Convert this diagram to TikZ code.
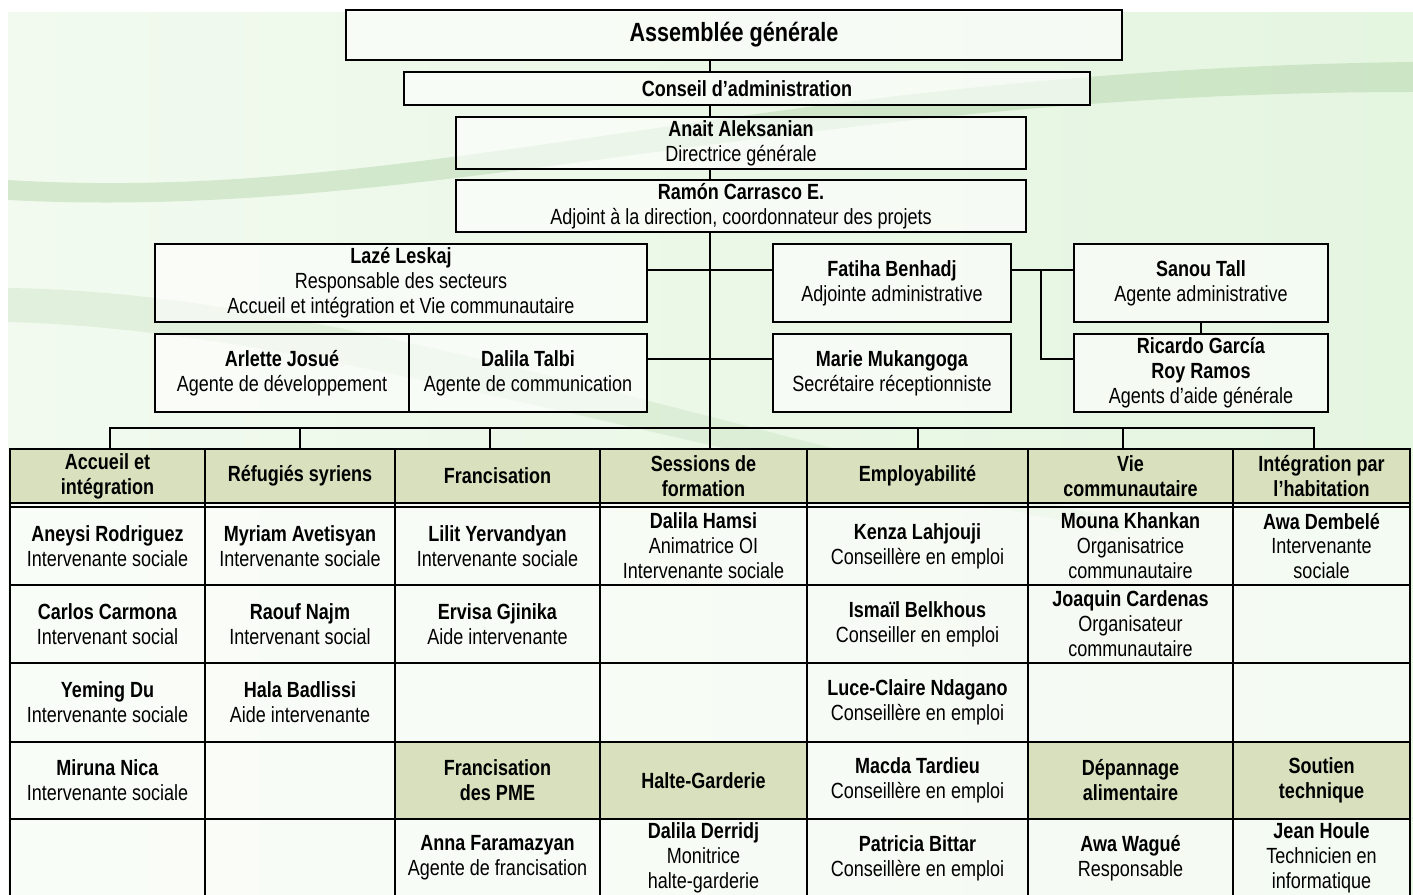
\documentclass[tikz,border=0pt]{standalone}
\usepackage{fontspec}
\setmainfont{Liberation Sans}[FakeStretch=0.82]

\definecolor{pagegreen}{HTML}{F2FAEF}
\definecolor{pagegreenR}{HTML}{E4F5E0}
\definecolor{swoosh}{HTML}{A9CF9E}
\definecolor{headfill}{HTML}{D8E0BE}

\newcommand{\pers}[2]{\textbf{#1}\\#2}
\newcommand{\bodyfont}{\fontsize{12.5}{14.2}\selectfont}

\tikzset{
  box/.style={draw, line width=1.3pt, fill=white, fill opacity=.6, text opacity=1, align=center, inner sep=0pt},
  cell/.style={box, minimum height=1.56cm},
  head/.style={box, fill=headfill, fill opacity=1, font=\bodyfont\bfseries},
  gapcell/.style={box, minimum height=0.08cm},
  wire/.style={line width=1.3pt},
}

\begin{document}
\begin{tikzpicture}[x=0.02cm,y=-0.02cm,font=\bodyfont]
\useasboundingbox (0,0) rectangle (1413,895);
\clip (0,0) rectangle (1413,895);
% background
\fill[white] (0,0) rectangle (1413,895);
\shade[left color=pagegreen, right color=pagegreenR] (8,13) rectangle (1413,895);
\fill[swoosh, opacity=.4] (8,180) .. controls (420,205) and (760,70) .. (1413,62) -- (1413,92) .. controls (800,92) and (430,222) .. (8,200) -- cycle;
\fill[swoosh, opacity=.22] (8,288) .. controls (300,292) and (620,400) .. (1120,520) -- (1120,532) .. controls (600,432) and (300,330) .. (8,322) -- cycle;

% direction
\node[box, minimum width=15.52cm, minimum height=1cm, font=\fontsize{15}{18}\selectfont\bfseries] (ag) at (734,35) {Assemblée générale};
\node[box, minimum width=13.72cm, minimum height=0.66cm, font=\bodyfont\bfseries] (ca) at (747,88.5) {Conseil d’administration};
\node[box, minimum width=11.4cm, minimum height=1.04cm] (dg) at (741,143) {\pers{Anait Aleksanian}{Directrice générale}};
\node[box, minimum width=11.4cm, minimum height=1.04cm] (adj) at (741,206) {\pers{Ramón Carrasco E.}{Adjoint à la direction, coordonnateur des projets}};

% staff around the trunk
\node[cell, minimum width=9.84cm] (lz) at (401,283) {\pers{Lazé Leskaj}{Responsable des secteurs\\Accueil et intégration et Vie communautaire}};
\node[cell, minimum width=5.08cm] (aj) at (282,373) {\pers{Arlette Josué}{Agente de développement}};
\node[cell, minimum width=4.76cm] (dt) at (528,373) {\pers{Dalila Talbi}{Agente de communication}};
\node[cell, minimum width=4.76cm] (fb) at (892,283) {\pers{Fatiha Benhadj}{Adjointe administrative}};
\node[cell, minimum width=4.76cm] (mm) at (892,373) {\pers{Marie Mukangoga}{Secrétaire réceptionniste}};
\node[cell, minimum width=5.08cm] (st) at (1201,283) {\pers{Sanou Tall}{Agente administrative}};
\node[cell, minimum width=5.08cm] (rg) at (1201,373) {\textbf{Ricardo García}\\\textbf{Roy Ramos}\\Agents d’aide générale};

% trunk
\coordinate (t) at (710,428);
\coordinate (j1) at (710,270);
\coordinate (j2) at (710,359);
\coordinate (k1) at (1041,270);
\coordinate (k2) at (1041,359);
\draw[wire] (ag.south -| t) -- (ca.north -| t);
\draw[wire] (ca.south -| t) -- (dg.north -| t);
\draw[wire] (dg.south -| t) -- (adj.north -| t);
\draw[wire] (adj.south -| t) -- (t);
\draw[wire] (lz.east |- j1) -- (fb.west |- j1);
\draw[wire] (dt.east |- j2) -- (mm.west |- j2);
\draw[wire] (fb.east |- k1) -- (st.west |- k1);
\draw[wire] (k1) -- (k2) -- (rg.west |- k2);
\draw[wire] (st.south) -- (rg.north);

% sectors: header row
\node[head, minimum width=3.9cm, minimum height=1.08cm] (h1) at (107.5,476) {Accueil et\\intégration};
\node[head, minimum width=3.8cm, minimum height=1.08cm] (h2) at (300,476) {Réfugiés syriens};
\node[head, minimum width=4.1cm, minimum height=1.08cm] (h3) at (497.5,476) {Francisation};
\node[head, minimum width=4.14cm, minimum height=1.08cm] (h4) at (703.5,476) {Sessions de\\formation};
\node[head, minimum width=4.42cm, minimum height=1.08cm] (h5) at (917.5,476) {Employabilité};
\node[head, minimum width=4.1cm, minimum height=1.08cm] (h6) at (1130.5,476) {Vie\\communautaire};
\node[head, minimum width=3.54cm, minimum height=1.08cm] (h7) at (1321.5,476) {Intégration par\\l’habitation};
\foreach \c/\x/\w in {1/107.5/3.9, 2/300/3.8, 3/497.5/4.1, 4/703.5/4.14, 5/917.5/4.42, 6/1130.5/4.1, 7/1321.5/3.54}
  \node[gapcell, minimum width=\w cm] (g\c) at (\x,505) {};

% bar over the sectors
\foreach \i/\x in {1/110, 2/300, 3/490, 4/710, 5/918, 6/1123, 7/1314}
  \coordinate (b\i) at (\x,428);
\draw[wire] (h1.north -| b1) |- (b7) -- (h7.north -| b7);
\foreach \i in {2,...,6}
  \draw[wire] (b\i) -- (h\i.north -| b\i);

% column 1
\node[cell, minimum width=3.9cm] (a1) at (107.5,546) {\pers{Aneysi Rodriguez}{Intervenante sociale}};
\node[cell, minimum width=3.9cm] (a2) at (107.5,624) {\pers{Carlos Carmona}{Intervenant social}};
\node[cell, minimum width=3.9cm, minimum height=1.58cm] (a3) at (107.5,702.5) {\pers{Yeming Du}{Intervenante sociale}};
\node[cell, minimum width=3.9cm, minimum height=1.54cm] (a4) at (107.5,780.5) {\pers{Miruna Nica}{Intervenante sociale}};
\node[cell, minimum width=3.9cm] (a5) at (107.5,858) {};
% column 2
\node[cell, minimum width=3.8cm] (r1) at (300,546) {\pers{Myriam Avetisyan}{Intervenante sociale}};
\node[cell, minimum width=3.8cm] (r2) at (300,624) {\pers{Raouf Najm}{Intervenant social}};
\node[cell, minimum width=3.8cm, minimum height=1.58cm] (r3) at (300,702.5) {\pers{Hala Badlissi}{Aide intervenante}};
\node[cell, minimum width=3.8cm, minimum height=1.54cm] (r4) at (300,780.5) {};
\node[cell, minimum width=3.8cm] (r5) at (300,858) {};
% column 3
\node[cell, minimum width=4.1cm] (f1) at (497.5,546) {\pers{Lilit Yervandyan}{Intervenante sociale}};
\node[cell, minimum width=4.1cm] (f2) at (497.5,624) {\pers{Ervisa Gjinika}{Aide intervenante}};
\node[cell, minimum width=4.1cm, minimum height=1.58cm] (f3) at (497.5,702.5) {};
\node[head, minimum width=4.1cm, minimum height=1.54cm] (f4) at (497.5,780.5) {Francisation\\des PME};
\node[cell, minimum width=4.1cm] (f5) at (497.5,858) {\pers{Anna Faramazyan}{Agente de francisation}};
% column 4
\node[cell, minimum width=4.14cm] (s1) at (703.5,546) {\pers{Dalila Hamsi}{Animatrice OI\\Intervenante sociale}};
\node[cell, minimum width=4.14cm] (s2) at (703.5,624) {};
\node[cell, minimum width=4.14cm, minimum height=1.58cm] (s3) at (703.5,702.5) {};
\node[head, minimum width=4.14cm, minimum height=1.54cm] (s4) at (703.5,780.5) {Halte-Garderie};
\node[cell, minimum width=4.14cm] (s5) at (703.5,858) {\pers{Dalila Derridj}{Monitrice\\halte-garderie}};
% column 5
\node[cell, minimum width=4.42cm] (e1) at (917.5,546) {\pers{Kenza Lahjouji}{Conseillère en emploi}};
\node[cell, minimum width=4.42cm] (e2) at (917.5,624) {\pers{Ismaïl Belkhous}{Conseiller en emploi}};
\node[cell, minimum width=4.42cm, minimum height=1.58cm] (e3) at (917.5,702.5) {\pers{Luce-Claire Ndagano}{Conseillère en emploi}};
\node[cell, minimum width=4.42cm, minimum height=1.54cm] (e4) at (917.5,780.5) {\pers{Macda Tardieu}{Conseillère en emploi}};
\node[cell, minimum width=4.42cm] (e5) at (917.5,858) {\pers{Patricia Bittar}{Conseillère en emploi}};
% column 6
\node[cell, minimum width=4.1cm] (v1) at (1130.5,546) {\pers{Mouna Khankan}{Organisatrice\\communautaire}};
\node[cell, minimum width=4.1cm] (v2) at (1130.5,624) {\pers{Joaquin Cardenas}{Organisateur\\communautaire}};
\node[cell, minimum width=4.1cm, minimum height=1.58cm] (v3) at (1130.5,702.5) {};
\node[head, minimum width=4.1cm, minimum height=1.54cm] (v4) at (1130.5,780.5) {Dépannage\\alimentaire};
\node[cell, minimum width=4.1cm] (v5) at (1130.5,858) {\pers{Awa Wagué}{Responsable}};
% column 7
\node[cell, minimum width=3.54cm] (i1) at (1321.5,546) {\pers{Awa Dembelé}{Intervenante\\sociale}};
\node[cell, minimum width=3.54cm] (i2) at (1321.5,624) {};
\node[cell, minimum width=3.54cm, minimum height=1.58cm] (i3) at (1321.5,702.5) {};
\node[head, minimum width=3.54cm, minimum height=1.54cm] (i4) at (1321.5,780.5) {Soutien\\technique};
\node[cell, minimum width=3.54cm] (i5) at (1321.5,858) {\pers{Jean Houle}{Technicien en\\informatique}};
\end{tikzpicture}
\end{document}
